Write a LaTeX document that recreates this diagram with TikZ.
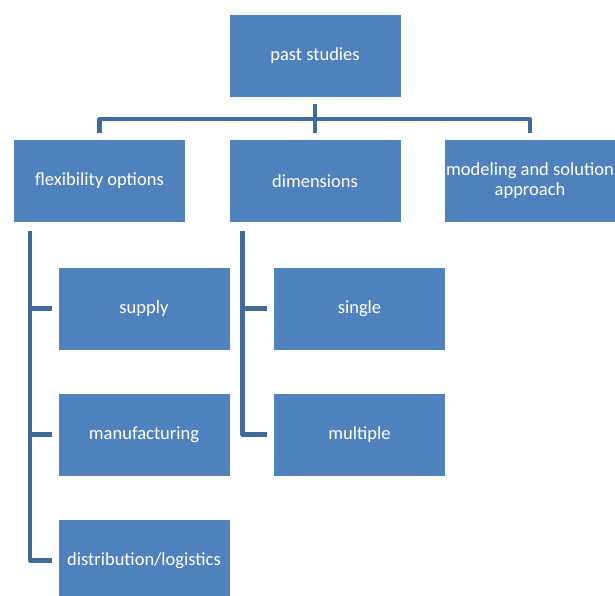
\documentclass[tikz,border=0pt]{standalone}
\usepackage{fontspec}
\setmainfont{Carlito}
\definecolor{boxblue}{RGB}{79,129,189}
\definecolor{connblue}{RGB}{64,108,156}
\begin{document}
\begin{tikzpicture}[x=1pt,y=-1pt,
  boxnode/.style={draw=white,line width=0.6pt,fill=boxblue,text=white,
    minimum width=172pt,minimum height=83pt,inner sep=1pt,align=center,
    font=\fontsize{18.5}{20}\selectfont},
  conn/.style={draw=connblue,line width=4.5pt,line join=round}]
\useasboundingbox (0,0) rectangle (615,596);
\begin{scope}
\clip (0,0) rectangle (615,596);
\node[boxnode] (top) at (315,55.5) {past studies};
\node[boxnode] (flex) at (99.5,181) {flexibility options};
\node[boxnode] (dim) at (315,181) {dimensions};
\node[boxnode] (model) at (530,181) {modeling and solution\\approach};
\node[boxnode] (supply) at (144,308.5) {supply};
\node[boxnode] (manuf) at (144,434.5) {manufacturing};
\node[boxnode] (dist) at (144,560.5) {distribution/logistics};
\node[boxnode] (single) at (359.5,308.5) {single};
\node[boxnode] (multi) at (359.5,434.5) {multiple};
\end{scope}
% top connectors
\draw[conn] ([yshift=-7pt]top.south) -- ([yshift=6pt]dim.north);
\draw[conn] ([yshift=6pt]flex.north) |- ([yshift=20pt]dim.north) -| ([yshift=6pt]model.north);
% flexibility options children
\coordinate (fv) at ([xshift=17pt,yshift=-8pt]flex.south west);
\draw[conn] (fv) |- ([xshift=-6pt]dist.west);
\draw[conn] ([xshift=-6pt]supply.west) -- (supply.west -| fv);
\draw[conn] ([xshift=-6pt]manuf.west) -- (manuf.west -| fv);
% dimensions children
\coordinate (dv) at ([xshift=14pt,yshift=-8pt]dim.south west);
\draw[conn] (dv) |- ([xshift=-6pt]multi.west);
\draw[conn] ([xshift=-6pt]single.west) -- (single.west -| dv);
\end{tikzpicture}
\end{document}
